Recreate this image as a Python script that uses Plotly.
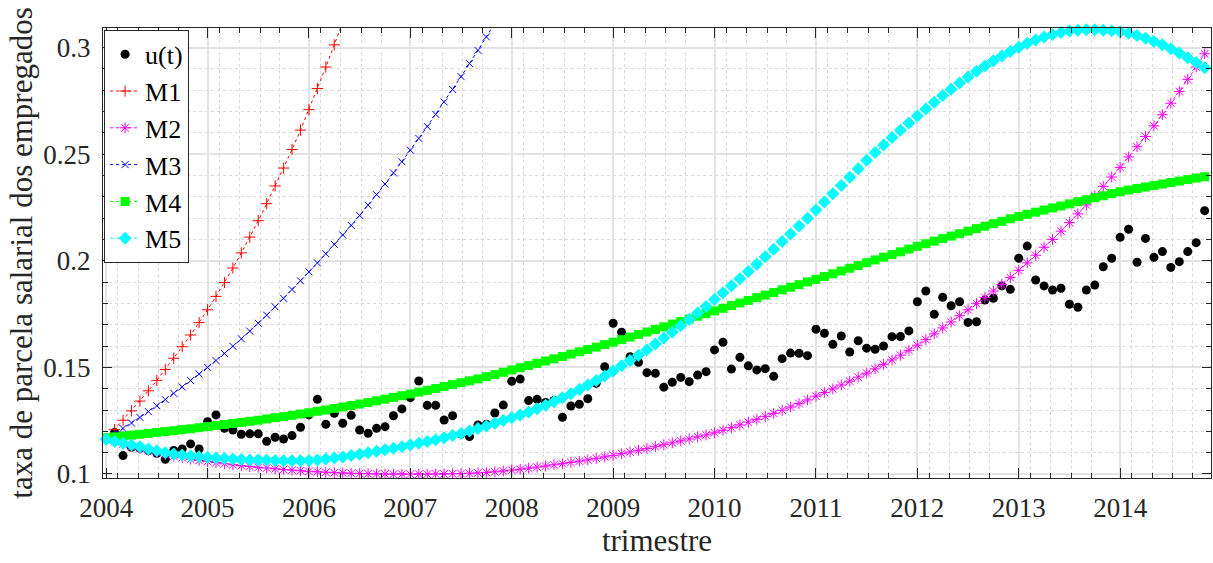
import plotly.graph_objects as go

FONT = "Liberation Serif, Times New Roman, serif"
BASE_YEAR = 2004

# ---------------- data (monthly index k -> year = 2004 + k/12) ----------------
u_months = list(range(1, 131))
u_vals = [
    0.1194, 0.1086, 0.1125, 0.1120, 0.1110, 0.1097, 0.1069, 0.1110, 0.1117, 0.1141,
    0.1117, 0.1245, 0.1277, 0.1214, 0.1206, 0.1186, 0.1188, 0.1188, 0.1153, 0.1172,
    0.1164, 0.1180, 0.1219, 0.1277, 0.1350, 0.1233, 0.1285, 0.1238, 0.1275, 0.1206,
    0.1191, 0.1214, 0.1222, 0.1273, 0.1305, 0.1358, 0.1436, 0.1322, 0.1322, 0.1253,
    0.1273, 0.1187, 0.1175, 0.1230, 0.1233, 0.1286, 0.1323, 0.1435, 0.1445, 0.1344,
    0.1350, 0.1335, 0.1345, 0.1266, 0.1319, 0.1327, 0.1353, 0.1425, 0.1503, 0.1707,
    0.1665, 0.1550, 0.1524, 0.1475, 0.1472, 0.1407, 0.1430, 0.1453, 0.1433, 0.1464,
    0.1480, 0.1582, 0.1618, 0.1492, 0.1547, 0.1507, 0.1488, 0.1494, 0.1458, 0.1541,
    0.1567, 0.1566, 0.1555, 0.1679, 0.1660, 0.1608, 0.1647, 0.1572, 0.1625, 0.1590,
    0.1585, 0.1600, 0.1644, 0.1645, 0.1671, 0.1808, 0.1858, 0.1749, 0.1829, 0.1789,
    0.1808, 0.1711, 0.1714, 0.1816, 0.1824, 0.1882, 0.1866, 0.2012, 0.2069, 0.1910,
    0.1882, 0.1863, 0.1871, 0.1796, 0.1782, 0.1863, 0.1886, 0.1972, 0.2012, 0.2110,
    0.2148, 0.1993, 0.2105, 0.2016, 0.2043, 0.1969, 0.1996, 0.2043, 0.2085, 0.2235,
]

m1_months = list(range(0, 29))
m1_vals = [
    0.1163, 0.1208, 0.1252, 0.1296, 0.1342, 0.1390, 0.1439, 0.1490, 0.1543, 0.1597,
    0.1652, 0.1710, 0.1770, 0.1833, 0.1898, 0.1966, 0.2037, 0.2111, 0.2188, 0.2268,
    0.2351, 0.2435, 0.2522, 0.2613, 0.2709, 0.2808, 0.2909, 0.3013, 0.3120,
]

m2_months = list(range(0, 131))
m2_vals = [
    0.1163, 0.1151, 0.1140, 0.1129, 0.1119, 0.1109, 0.1100, 0.1091, 0.1083, 0.1076,
    0.1069, 0.1063, 0.1058, 0.1053, 0.1048, 0.1043, 0.1039, 0.1035, 0.1031, 0.1028,
    0.1024, 0.1021, 0.1018, 0.1015, 0.1012, 0.1010, 0.1008, 0.1006, 0.1005, 0.1003,
    0.1002, 0.1001, 0.1000, 0.1000, 0.0999, 0.0999, 0.0999, 0.0999, 0.0999, 0.1000,
    0.1000, 0.1001, 0.1002, 0.1003, 0.1005, 0.1007, 0.1010, 0.1014, 0.1018, 0.1022,
    0.1027, 0.1032, 0.1037, 0.1043, 0.1048, 0.1054, 0.1060, 0.1066, 0.1073, 0.1080,
    0.1087, 0.1095, 0.1103, 0.1111, 0.1119, 0.1128, 0.1137, 0.1146, 0.1155, 0.1164,
    0.1174, 0.1183, 0.1193, 0.1205, 0.1217, 0.1230, 0.1243, 0.1256, 0.1270, 0.1284,
    0.1299, 0.1314, 0.1330, 0.1347, 0.1365, 0.1382, 0.1399, 0.1417, 0.1435, 0.1454,
    0.1473, 0.1493, 0.1514, 0.1535, 0.1557, 0.1580, 0.1604, 0.1630, 0.1657, 0.1685,
    0.1713, 0.1742, 0.1770, 0.1799, 0.1828, 0.1858, 0.1889, 0.1921, 0.1955, 0.1990,
    0.2026, 0.2063, 0.2100, 0.2139, 0.2179, 0.2220, 0.2262, 0.2305, 0.2349, 0.2393,
    0.2438, 0.2487, 0.2535, 0.2583, 0.2633, 0.2685, 0.2739, 0.2794, 0.2851, 0.2909,
    0.2971,
]

m3_months = list(range(0, 47))
m3_vals = [
    0.1163, 0.1188, 0.1213, 0.1239, 0.1265, 0.1292, 0.1320, 0.1349, 0.1378, 0.1408,
    0.1438, 0.1469, 0.1500, 0.1532, 0.1565, 0.1599, 0.1634, 0.1670, 0.1707, 0.1745,
    0.1784, 0.1824, 0.1865, 0.1906, 0.1948, 0.1990, 0.2033, 0.2077, 0.2121, 0.2166,
    0.2213, 0.2261, 0.2310, 0.2360, 0.2412, 0.2465, 0.2519, 0.2574, 0.2630, 0.2687,
    0.2745, 0.2804, 0.2864, 0.2925, 0.2987, 0.3050, 0.3114,
]

m4_months = list(range(0, 131))
m4_vals = [
    0.1170, 0.1174, 0.1178, 0.1182, 0.1186, 0.1190, 0.1195, 0.1199, 0.1203, 0.1208,
    0.1212, 0.1217, 0.1222, 0.1227, 0.1232, 0.1237, 0.1242, 0.1247, 0.1252, 0.1258,
    0.1264, 0.1269, 0.1275, 0.1281, 0.1287, 0.1294, 0.1300, 0.1307, 0.1314, 0.1321,
    0.1328, 0.1335, 0.1343, 0.1351, 0.1359, 0.1367, 0.1375, 0.1384, 0.1392, 0.1401,
    0.1410, 0.1419, 0.1428, 0.1437, 0.1446, 0.1456, 0.1466, 0.1477, 0.1488, 0.1498,
    0.1509, 0.1519, 0.1530, 0.1540, 0.1551, 0.1562, 0.1573, 0.1584, 0.1595, 0.1607,
    0.1618, 0.1630, 0.1642, 0.1654, 0.1666, 0.1678, 0.1690, 0.1703, 0.1715, 0.1727,
    0.1740, 0.1752, 0.1765, 0.1777, 0.1790, 0.1802, 0.1814, 0.1827, 0.1839, 0.1851,
    0.1864, 0.1876, 0.1888, 0.1901, 0.1913, 0.1926, 0.1939, 0.1952, 0.1965, 0.1978,
    0.1991, 0.2004, 0.2017, 0.2029, 0.2042, 0.2055, 0.2068, 0.2080, 0.2092, 0.2104,
    0.2116, 0.2127, 0.2139, 0.2151, 0.2162, 0.2174, 0.2185, 0.2197, 0.2208, 0.2218,
    0.2228, 0.2238, 0.2248, 0.2257, 0.2267, 0.2277, 0.2286, 0.2296, 0.2305, 0.2315,
    0.2324, 0.2332, 0.2339, 0.2346, 0.2353, 0.2360, 0.2367, 0.2374, 0.2381, 0.2388,
    0.2394,
]

m5_months = list(range(0, 131))
m5_vals = [
    0.1163, 0.1152, 0.1144, 0.1136, 0.1128, 0.1117, 0.1109, 0.1100, 0.1094, 0.1089,
    0.1084, 0.1081, 0.1078, 0.1075, 0.1072, 0.1070, 0.1068, 0.1066, 0.1065, 0.1064,
    0.1063, 0.1062, 0.1062, 0.1062, 0.1063, 0.1066, 0.1070, 0.1075, 0.1080, 0.1086,
    0.1092, 0.1099, 0.1106, 0.1113, 0.1120, 0.1128, 0.1136, 0.1144, 0.1152, 0.1161,
    0.1170, 0.1180, 0.1190, 0.1201, 0.1213, 0.1225, 0.1238, 0.1251, 0.1264, 0.1277,
    0.1291, 0.1306, 0.1322, 0.1339, 0.1357, 0.1376, 0.1396, 0.1417, 0.1438, 0.1460,
    0.1483, 0.1507, 0.1532, 0.1557, 0.1583, 0.1610, 0.1638, 0.1666, 0.1695, 0.1725,
    0.1755, 0.1786, 0.1818, 0.1850, 0.1883, 0.1916, 0.1950, 0.1984, 0.2019, 0.2054,
    0.2090, 0.2126, 0.2163, 0.2200, 0.2238, 0.2276, 0.2314, 0.2353, 0.2392, 0.2432,
    0.2472, 0.2508, 0.2543, 0.2578, 0.2612, 0.2646, 0.2679, 0.2712, 0.2744, 0.2775,
    0.2805, 0.2834, 0.2862, 0.2889, 0.2914, 0.2938, 0.2961, 0.2982, 0.3002, 0.3020,
    0.3036, 0.3050, 0.3062, 0.3071, 0.3078, 0.3082, 0.3084, 0.3084, 0.3082, 0.3079,
    0.3074, 0.3067, 0.3057, 0.3044, 0.3029, 0.3013, 0.2995, 0.2975, 0.2953, 0.2930,
    0.2905,
]

year_ticks = list(range(2004, 2015))
year_labels = [str(y) for y in year_ticks]
y_ticks = [0.1, 0.15, 0.2, 0.25, 0.3]
y_labels = ["0.1", "0.15", "0.2", "0.25", "0.3"]
x_minor_offsets = [0.115, 0.315, 0.518, 0.713]
y_minor_ticks = [round(0.10 + 0.01 * i, 2) for i in range(21)]


def to_year(months):
    return [BASE_YEAR + m / 12 for m in months]


x_minor = [y + o for y in year_ticks for o in x_minor_offsets]
y_minor = [v for v in y_minor_ticks if v not in y_ticks]

fig = go.Figure()

fig.add_trace(go.Scatter(
    x=to_year(u_months), y=u_vals, mode="markers", name="u(t)",
    marker=dict(symbol="circle", size=9, color="black"),
))
fig.add_trace(go.Scatter(
    x=to_year(m1_months), y=m1_vals, mode="lines+markers", name="M1",
    line=dict(color="#ff0000", width=1, dash="dot"),
    marker=dict(symbol="cross-thin", size=8, color="#ff0000",
                line=dict(color="#ff0000", width=1)),
))
fig.add_trace(go.Scatter(
    x=to_year(m2_months), y=m2_vals, mode="lines+markers", name="M2",
    line=dict(color="#ff00ff", width=1, dash="dot"),
    marker=dict(symbol="asterisk", size=9, color="#ff00ff",
                line=dict(color="#ff00ff", width=1)),
))
fig.add_trace(go.Scatter(
    x=to_year(m3_months), y=m3_vals, mode="lines+markers", name="M3",
    line=dict(color="#0000ff", width=1, dash="dot"),
    marker=dict(symbol="x-thin", size=7, color="#0000ff",
                line=dict(color="#0000ff", width=1)),
))
fig.add_trace(go.Scatter(
    x=to_year(m4_months), y=m4_vals, mode="lines+markers", name="M4",
    line=dict(color="#00ff00", width=1, dash="dot"),
    marker=dict(symbol="square", size=9, color="#00ff00"),
))
fig.add_trace(go.Scatter(
    x=to_year(m5_months), y=m5_vals, mode="lines+markers", name="M5",
    line=dict(color="#00ffff", width=1, dash="dot"),
    marker=dict(symbol="diamond", size=10, color="#00ffff"),
    cliponaxis=False,
))

axis_color = "#262626"

fig.update_layout(
    width=1213, height=563,
    margin=dict(l=103, r=2, t=28, b=85),
    paper_bgcolor="white", plot_bgcolor="white",
    font=dict(family=FONT, size=27, color=axis_color),
    showlegend=True,
    legend=dict(
        x=0.001, y=0.996, xanchor="left", yanchor="top",
        bgcolor="white", bordercolor=axis_color, borderwidth=1,
        font=dict(family=FONT, size=26, color="black"),
        tracegroupgap=0,
    ),
    xaxis=dict(
        range=[2003.969, 2014.896], automargin=False,
        tickmode="array", tickvals=year_ticks, ticktext=year_labels,
        ticks="inside", ticklen=10, tickwidth=1, tickcolor=axis_color,
        ticklabelstandoff=6,
        showline=True, linecolor=axis_color, linewidth=1, mirror="ticks",
        showgrid=True, gridcolor="#e3e3e3", gridwidth=1.5, zeroline=False,
        tickfont=dict(size=27, color=axis_color),
        title=dict(text="trimestre", font=dict(size=31, color=axis_color), standoff=5),
        minor=dict(tickmode="array", tickvals=x_minor, ticks="inside", ticklen=5,
                   tickcolor=axis_color, showgrid=True, gridcolor="#d9d9d9",
                   griddash="dot", gridwidth=1),
    ),
    yaxis=dict(
        range=[0.0981, 0.3092], automargin=False,
        tickmode="array", tickvals=y_ticks, ticktext=y_labels,
        ticks="inside", ticklen=9, tickwidth=1, tickcolor=axis_color,
        ticklabelstandoff=6,
        showline=True, linecolor=axis_color, linewidth=1, mirror="ticks",
        showgrid=True, gridcolor="#e3e3e3", gridwidth=1.5, zeroline=False,
        tickfont=dict(size=27, color=axis_color),
        title=dict(text="taxa de parcela salarial dos empregados",
                   font=dict(size=31, color=axis_color), standoff=1),
        minor=dict(tickmode="array", tickvals=y_minor, ticks="inside", ticklen=5,
                   tickcolor=axis_color, showgrid=True, gridcolor="#d9d9d9",
                   griddash="dot", gridwidth=1),
    ),
)

fig.write_html(
    "out.html",
    config={"displayModeBar": False},
    post_script="document.body.style.margin='0';document.body.style.overflow='hidden';",
)
